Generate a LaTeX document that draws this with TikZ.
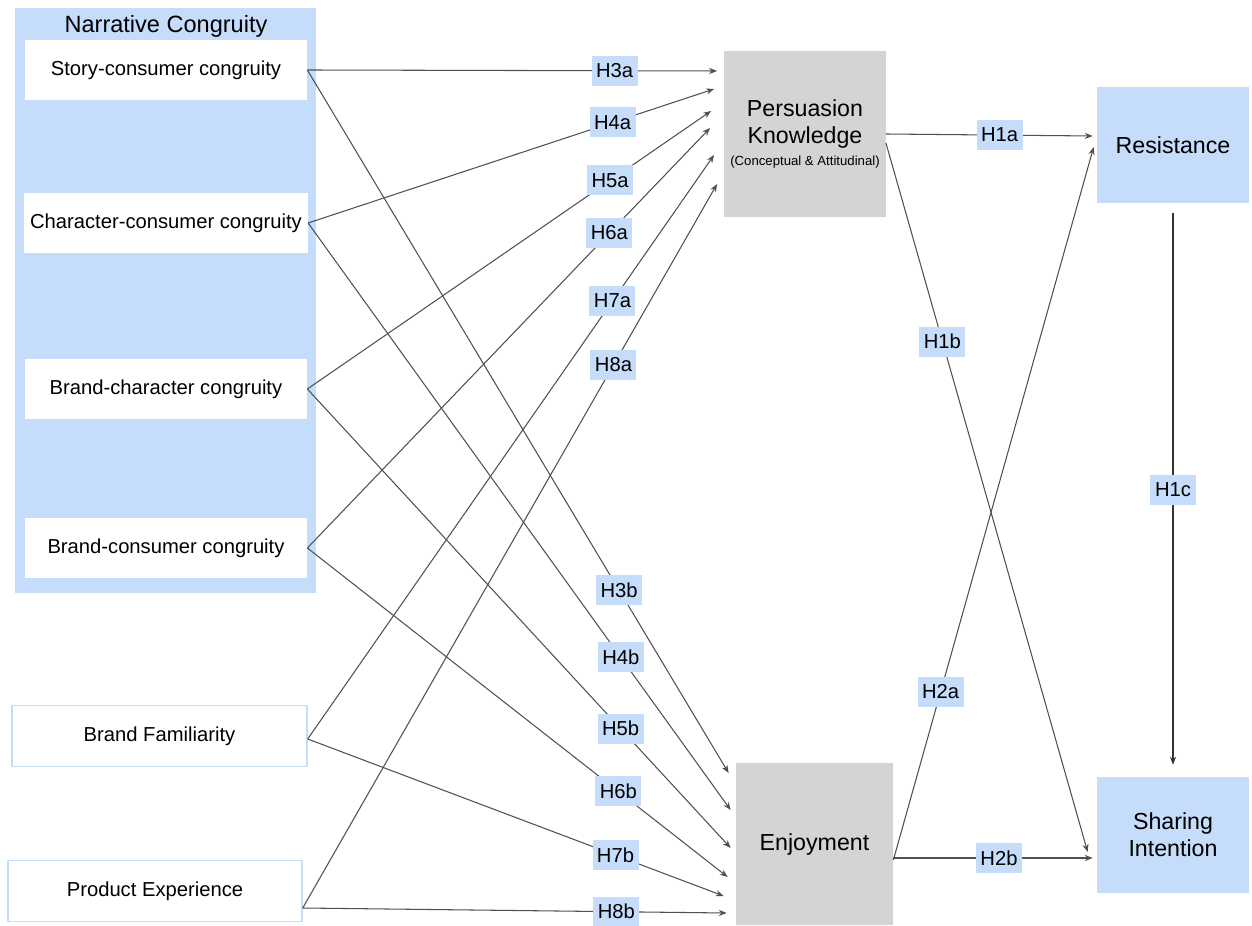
\documentclass[tikz,border=0pt]{standalone}
\usepackage{fontspec}
\setmainfont{Liberation Sans}
\usetikzlibrary{arrows.meta, positioning}
\usepackage{xcolor}
\definecolor{ncblue}{HTML}{C5DCFA}
\definecolor{pkgray}{HTML}{D4D4D4}
\definecolor{linegray}{HTML}{505050}

\begin{document}
\begin{tikzpicture}[
    varbox/.style={fill=white, minimum width=5.64cm, minimum height=1.2cm,
      font=\fontsize{11.5}{13}\selectfont},
    extbox/.style={draw=ncblue, line width=0.8pt, fill=white, minimum height=1.22cm,
      font=\fontsize{11.5}{13}\selectfont},
    mainbox/.style={fill=pkgray, align=center, font=\fontsize{13.2}{15.4}\selectfont},
    outbox/.style={fill=ncblue, minimum width=3.04cm, minimum height=2.32cm,
      align=center, font=\fontsize{13.2}{15.4}\selectfont},
    hyp/.style={fill=ncblue, minimum width=0.92cm, minimum height=0.6cm, inner sep=1pt,
      font=\fontsize{11.5}{13}\selectfont},
    link/.style={draw=linegray, line width=0.6pt,
      -{Stealth[length=4.5pt, width=3.5pt]}}
  ]
  \useasboundingbox (0,0) rectangle (25.04,18.5);

  % narrative congruity group
  \node[fill=ncblue, minimum width=6.02cm, minimum height=11.7cm] (nc) at (3.31,12.49) {};
  \node[font=\fontsize{13.4}{15}\selectfont] (nctitle) at (3.32,17.98) {Narrative Congruity};
  \node[varbox] (story) at (3.32,17.10) {Story-consumer congruity};
  \node[varbox] (char) at (3.32,14.04) {Character-consumer congruity};
  \node[varbox] (brch) at (3.32,10.72) {Brand-character congruity};
  \node[varbox] (brco) at (3.32,7.54) {Brand-consumer congruity};

  \node[extbox, minimum width=5.9cm] (bf) at (3.19,3.78) {Brand Familiarity};
  \node[extbox, minimum width=5.88cm] (pe) at (3.10,0.68) {Product Experience};

  % mediators and outcomes
  \node[mainbox, minimum width=3.12cm, minimum height=3.32cm] (pk) at (16.10,15.82)
    {Persuasion\\Knowledge\\[-3pt]{\fontsize{7.5}{9}\selectfont (Conceptual \& Attitudinal)}};
  \node[mainbox, minimum width=3.14cm, minimum height=3.24cm] (enj) at (16.29,1.62) {Enjoyment};
  \node[outbox] (res) at (23.46,15.60) {Resistance};
  \node[outbox] (si) at (23.46,1.80) {Sharing\\Intention};

  % paths to persuasion knowledge
  \draw[link] (story.east) -- node[hyp, pos=0.75] (h3a) {H3a} ([xshift=-0.14cm, yshift=1.26cm]pk.west);
  \draw[link] (char.east) -- node[hyp, pos=0.75] (h4a) {H4a} ([xshift=-0.2cm, yshift=0.90cm]pk.west);
  \draw[link] (brch.east) -- node[hyp, pos=0.75] (h5a) {H5a} ([xshift=-0.26cm, yshift=0.46cm]pk.west);
  \draw[link] (brco.east) -- node[hyp, pos=0.75] (h6a) {H6a} ([xshift=-0.28cm, yshift=0.12cm]pk.west);
  \draw[link] ([yshift=-0.06cm]bf.east) -- node[hyp, pos=0.75] (h7a) {H7a} ([xshift=-0.2cm, yshift=-0.42cm]pk.west);
  \draw[link] ([yshift=-0.34cm]pe.east) -- node[hyp, pos=0.75] (h8a) {H8a} ([xshift=-0.14cm, yshift=-1.00cm]pk.west);

  % paths to enjoyment
  \draw[link] (story.east) -- node[hyp, pos=0.74] (h3b) {H3b} ([xshift=-0.14cm, yshift=1.42cm]enj.west);
  \draw[link] (char.east) -- node[hyp, pos=0.74] (h4b) {H4b} ([xshift=-0.1cm, yshift=0.68cm]enj.west);
  \draw[link] (brch.east) -- node[hyp, pos=0.74] (h5b) {H5b} ([xshift=-0.1cm, yshift=-0.08cm]enj.west);
  \draw[link] (brco.east) -- node[hyp, pos=0.74] (h6b) {H6b} ([xshift=-0.16cm, yshift=-0.66cm]enj.west);
  \draw[link] ([yshift=-0.06cm]bf.east) -- node[hyp, pos=0.74] (h7b) {H7b} ([xshift=-0.24cm, yshift=-1.04cm]enj.west);
  \draw[link] ([yshift=-0.34cm]pe.east) -- node[hyp, pos=0.74] (h8b) {H8b} ([xshift=-0.18cm, yshift=-1.38cm]enj.west);

  % outcomes
  \draw[link] (pk.east) -- node[hyp, pos=0.55] (h1a) {H1a} ([xshift=-0.08cm, yshift=0.18cm]res.west);
  \draw[link] ([yshift=-0.18cm]pk.east) -- node[hyp, pos=0.28] (h1b) {H1b} ([xshift=-0.18cm, yshift=-0.34cm]si.west);
  \draw[link] ([yshift=-0.32cm]enj.east) -- node[hyp, pos=0.236] (h2a) {H2a} ([xshift=-0.06cm, yshift=-0.04cm]res.west);
  \draw[link] ([yshift=-0.28cm]enj.east) -- node[hyp, pos=0.53] (h2b) {H2b} ([xshift=-0.08cm, yshift=-0.46cm]si.west);
  \draw[link, draw=black!80, shorten <=0.2cm, shorten >=0.24cm] (res.south) -- node[hyp] (h1c) {H1c} (si.north);
\end{tikzpicture}
\end{document}
